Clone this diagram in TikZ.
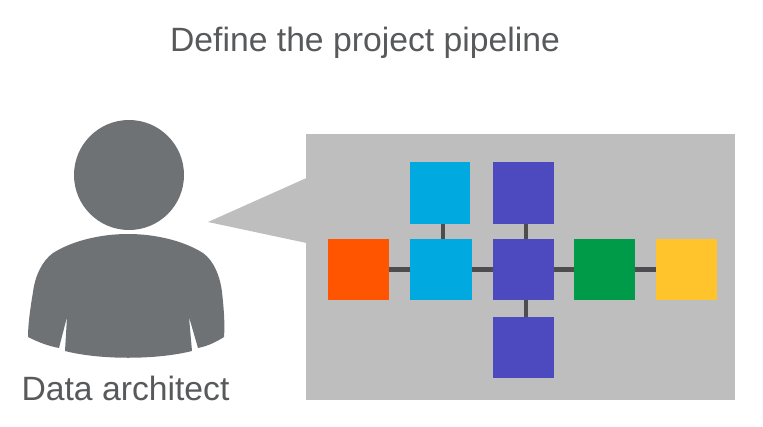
\documentclass[tikz,border=0pt]{standalone}
\usepackage{fontspec}
\setmainfont{Liberation Sans}
\definecolor{panelgray}{HTML}{BEBEBE}
\definecolor{persongray}{HTML}{6F7274}
\definecolor{textgray}{HTML}{58595B}
\definecolor{linkgray}{HTML}{4D4D4F}
\definecolor{orangebox}{HTML}{FF5500}
\definecolor{bluebox}{HTML}{00A9E0}
\definecolor{purplebox}{HTML}{4D49BE}
\definecolor{greenbox}{HTML}{009B48}
\definecolor{yellowbox}{HTML}{FFC32B}
\tikzset{
  stagebox/.style = {minimum width = 61pt, minimum height = 61pt, inner sep = 0pt, outer sep = 0pt},
  link/.style = {draw = linkgray, line width = 4.6pt},
  caption/.style = {text = textgray, inner sep = 0pt, anchor = base, font = \fontsize{33.7}{40}\selectfont}
}
\begin{document}
\begin{tikzpicture}[x = 1pt, y = -1pt]

  \useasboundingbox (0, 0) rectangle (763, 426);

  % titles
  \node[caption] (title) at (365, 51.5) {Define the project pipeline};
  \node[caption] (role) at (125.5, 400.5) {Data architect};

  % person
  \fill[persongray] (129, 175) circle (55);
  \fill[persongray] (128, 234) .. controls (100, 234) and (72, 241) .. (53, 253)
    .. controls (42, 261) and (35, 276) .. (33, 292)
    .. controls (30, 310) and (28, 325) .. (28, 337)
    .. controls (38, 342) and (48, 346) .. (59, 348) -- (67, 317) -- (65, 351)
    .. controls (100, 360) and (156, 360) .. (192, 351) -- (189, 317) -- (198, 348)
    .. controls (208, 346) and (216, 342) .. (224, 337)
    .. controls (225, 325) and (224, 310) .. (222, 292)
    .. controls (220, 276) and (214, 261) .. (203, 253)
    .. controls (184, 241) and (156, 234) .. (128, 234) -- cycle;

  % speech panel
  \fill[panelgray] (306, 134) rectangle (735, 400);
  \fill[panelgray] (208, 222) -- (306.5, 178) -- (306.5, 243) -- cycle;

  % stages
  \node[stagebox, fill = orangebox] (source) at (358.5, 269.5) {};
  \node[stagebox, fill = bluebox, minimum width = 62pt] (ingest) at (441, 269.5) {};
  \node[stagebox, fill = bluebox, minimum width = 60pt, minimum height = 62pt] (ingestup) at (440, 193) {};
  \node[stagebox, fill = purplebox] (process) at (523, 269.5) {};
  \node[stagebox, fill = purplebox, minimum height = 62pt] (processup) at (523, 193) {};
  \node[stagebox, fill = purplebox] (processdown) at (523, 347.5) {};
  \node[stagebox, fill = greenbox] (store) at (604.5, 269.5) {};
  \node[stagebox, fill = yellowbox] (sink) at (686.5, 269.5) {};

  % links
  \draw[link] (source) -- (ingest);
  \draw[link] (ingest) -- (process);
  \draw[link] (process) -- (store);
  \draw[link] (store) -- (sink);
  \draw[link] ([xshift = 3pt]ingestup.south) -- ([xshift = 2pt]ingest.north);
  \draw[link] ([xshift = 3pt]processup.south) -- ([xshift = 3pt]process.north);
  \draw[link] ([xshift = 3pt]process.south) -- ([xshift = 3pt]processdown.north);
\end{tikzpicture}
\end{document}
